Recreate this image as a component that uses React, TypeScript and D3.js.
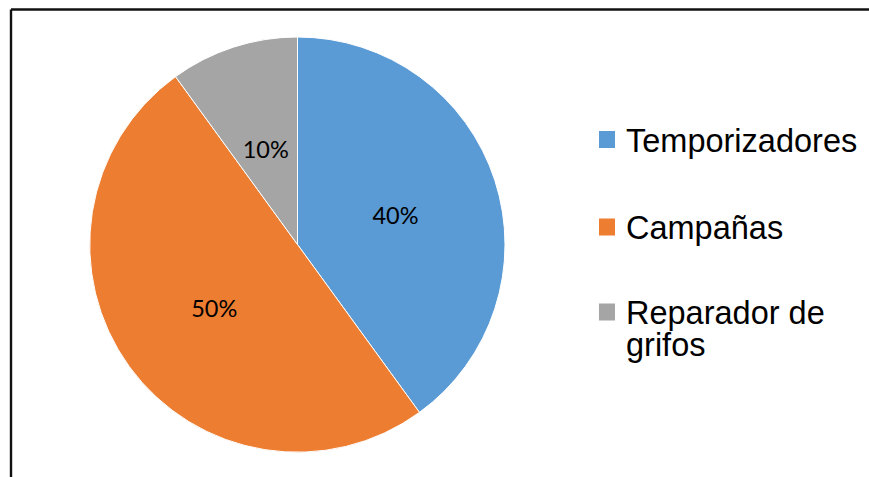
import React from "react";
import * as d3 from "d3";

const categories = ["Temporizadores", "Campañas", "Reparador de grifos"];
const values = [40, 50, 10];
const labels = ["40%", "50%", "10%"];
const legendLines = [["Temporizadores"], ["Campañas"], ["Reparador de", "grifos"]];
const colors = ["#5B9BD5", "#ED7D31", "#A5A5A5"];

export default function App() {
  const W = 869, H = 477;
  const cx = 297.5, cy = 244.5, R = 207.5;
  const pie = d3.pie<number>().sort(null).value((d) => d);
  const arcs = pie(values);
  const arc = d3.arc<d3.PieArcDatum<number>>().innerRadius(0).outerRadius(R);
  const labelArc = d3.arc<d3.PieArcDatum<number>>().innerRadius(103).outerRadius(103);
  const legendY = [139.5, 227, 312];
  return (
    <svg width={W} height={H} style={{ position: "absolute", left: 0, top: 0, display: "block" }}>
      <rect x={0} y={0} width={W} height={H} fill="#fff" />
      <line x1={11} y1={9.5} x2={W} y2={9.5} stroke="#111" strokeWidth={2.4} />
      <line x1={11} y1={9.5} x2={11} y2={H} stroke="#111" strokeWidth={2.4} />
      <g transform={`translate(${cx},${cy})`}>
        {arcs.map((a, i) => (
          <path key={i} d={arc(a) || ""} fill={colors[i]} stroke="#fff" strokeWidth={1} />
        ))}
        {arcs.map((a, i) => {
          const [x, y] = labelArc.centroid(a);
          return (
            <text key={i} x={x} y={y + 2.5} textAnchor="middle" dominantBaseline="central"
              fontFamily="Lato, 'Open Sans', sans-serif" fontSize={23.5} fill="#000">
              {labels[i]}
            </text>
          );
        })}
      </g>
      {categories.map((c, i) => (
        <g key={c}>
          <rect x={599} y={legendY[i] - 8.5} width={16} height={17} fill={colors[i]} />
          {legendLines[i].map((l, j) => (
            <text key={j} x={626} y={legendY[i] + 12 + j * 32}
              fontFamily="'Liberation Sans', Arial, sans-serif" fontSize={32.5} fill="#000">
              {l}
            </text>
          ))}
        </g>
      ))}
    </svg>
  );
}
